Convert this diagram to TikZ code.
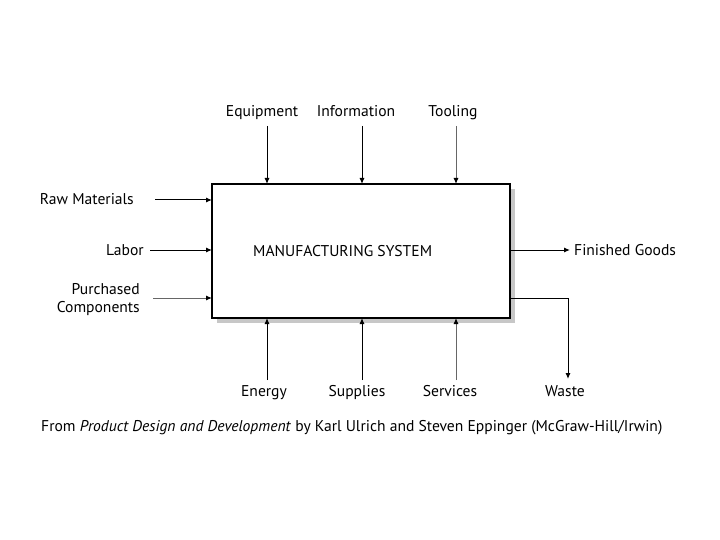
\documentclass[tikz,border=0pt]{standalone}
\usepackage{fontspec}
\setmainfont{PT Sans}
\usetikzlibrary{arrows.meta}
\begin{document}
\begin{tikzpicture}[x=1pt,y=-1pt,
  lbl/.style={inner sep=0pt,font=\fontsize{15.6}{18}\selectfont},
  one/.style={lbl,text height=13pt,text depth=3pt},
  flow/.style={-{Latex[length=6pt,width=5pt]},line width=1pt,black},
  lightflow/.style={flow,draw=black!60,-{Latex[length=6pt,width=5pt,color=black]}}]
\useasboundingbox (0,0) rectangle (720,540);
\fill[black!22] (217,189) rectangle (515,323);
\draw[fill=white,line width=1.3pt] (212,184) rectangle (510,318);
\coordinate (sys) at (212,184);
\node[one,anchor=west] (ms) at (253,251) {MANUFACTURING SYSTEM};
% top inputs
\node[one] (equip) at (262,112) {Equipment};
\node[one] (info) at (356,112) {Information};
\node[one] (tool) at (453,112) {Tooling};
\coordinate (equipS) at (267,126); \coordinate (equipE) at (267,184);
\coordinate (infoS) at (362,126); \coordinate (infoE) at (362,184);
\coordinate (toolS) at (456,126); \coordinate (toolE) at (456,184);
\draw[flow] (equipS) -- (equipE);
\draw[flow] (infoS) -- (infoE);
\draw[lightflow] (toolS) -- (toolE);
% left inputs
\node[one,anchor=east] (raw) at (134,200) {Raw Materials};
\node[one,anchor=east] (labor) at (144,250) {Labor};
\node[lbl,anchor=east,align=right] (purch) at (140,300) {Purchased\\Components};
\coordinate (rawS) at (155,200); \coordinate (rawE) at (212,200);
\coordinate (laborS) at (150,250); \coordinate (laborE) at (212,250);
\coordinate (purchS) at (153,298); \coordinate (purchE) at (212,298);
\draw[flow] (rawS) -- (rawE);
\draw[flow] (laborS) -- (laborE);
\draw[lightflow] (purchS) -- (purchE);
% bottom inputs
\node[one] (energy) at (264,391) {Energy};
\node[one] (supp) at (357,391) {Supplies};
\node[one] (serv) at (450,391) {Services};
\coordinate (energyS) at (267,380); \coordinate (energyE) at (267,318);
\coordinate (suppS) at (362,380); \coordinate (suppE) at (362,318);
\coordinate (servS) at (456,380); \coordinate (servE) at (456,318);
\draw[flow] (energyS) -- (energyE);
\draw[flow] (suppS) -- (suppE);
\draw[lightflow] (servS) -- (servE);
% outputs
\node[one,anchor=west] (fin) at (574,250) {Finished Goods};
\node[one] (waste) at (565,391) {Waste};
\coordinate (finS) at (510,250); \coordinate (finE) at (570,250);
\coordinate (wasteS) at (510,298); \coordinate (wasteE) at (568,379);
\draw[flow] (finS) -- (finE);
\draw[flow] (wasteS) -| (wasteE);
% caption
\node[one,anchor=west] (cap) at (41,426) {From \textit{Product Design and Development} by Karl Ulrich and Steven Eppinger (McGraw-Hill/Irwin)};
\end{tikzpicture}
\end{document}
